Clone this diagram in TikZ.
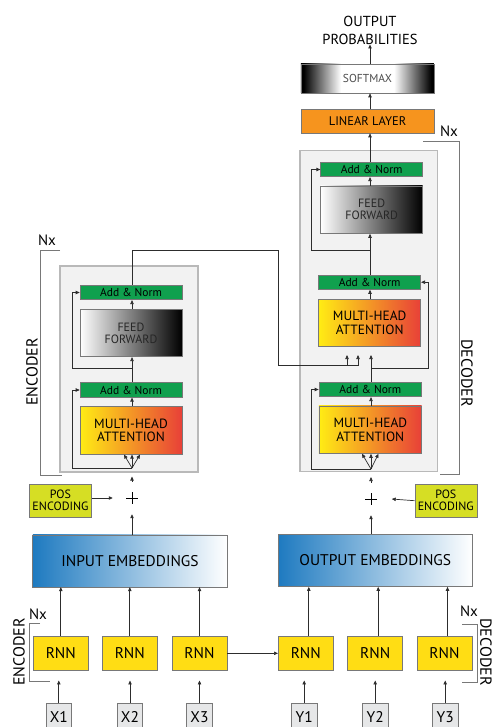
\documentclass[tikz,border=0pt]{standalone}
\usepackage{fontspec}
\setmainfont{PT Sans}
\usetikzlibrary{arrows.meta,calc}

\definecolor{linecol}{RGB}{45,45,45}
\definecolor{bordercol}{RGB}{120,120,120}
\definecolor{blockfill}{RGB}{242,242,242}
\definecolor{blockdraw}{RGB}{185,185,185}
\definecolor{addgreen}{RGB}{16,160,78}
\definecolor{mhyellow}{RGB}{255,236,20}
\definecolor{mhorange}{RGB}{247,168,60}
\definecolor{mhred}{RGB}{232,64,56}
\definecolor{linorange}{RGB}{246,148,30}
\definecolor{posgreen}{RGB}{214,222,36}
\definecolor{rnnyellow}{RGB}{255,221,20}
\definecolor{embblue}{RGB}{30,122,192}
\definecolor{tokfill}{RGB}{230,231,232}

\pgfdeclarehorizontalshading{softmaxshade}{100bp}{%
  color(0bp)=(black); color(26bp)=(black); color(40bp)=(white);
  color(60bp)=(white); color(74bp)=(black); color(100bp)=(black)}

\tikzset{
  fsz/.style={font=\fontsize{#1}{#1}\selectfont},
  box/.style={draw=bordercol, line width=0.6pt, inner sep=0pt, align=center},
  block/.style={draw=blockdraw, fill=blockfill, line width=1.4pt, inner sep=0pt},
  addnorm/.style={box, fill=addgreen, minimum width=102pt, minimum height=14.5pt,
    fsz=11.5, text=black},
  ffbox/.style={box, left color=white, right color=black, minimum width=102pt,
    minimum height=47.5pt, fsz=12, text=black!85},
  mhbox/.style={box, left color=mhyellow, middle color=mhorange, right color=mhred,
    shading angle=90, minimum width=102pt, minimum height=47.5pt, fsz=13.4},
  embbox/.style={box, left color=embblue, right color=white, minimum width=194.5pt,
    minimum height=52pt, fsz=15.5},
  posbox/.style={box, fill=posgreen, minimum width=62pt, minimum height=33.5pt,
    fsz=12},
  rnnbox/.style={box, fill=rnnyellow, minimum width=55pt, minimum height=34.7pt,
    fsz=15.5},
  tokbox/.style={box, fill=tokfill, minimum width=25.5pt, minimum height=28pt,
    fsz=15.5},
  plusspot/.style={inner sep=0pt, minimum width=38pt, minimum height=32pt},
  plusline/.style={draw=black, line width=1pt},
  conn/.style={draw=linecol, line width=0.7pt},
  arr/.style={-{Triangle[length=4pt,width=3.4pt]}},
  bracket/.style={draw=bordercol, line width=0.8pt},
  lbl/.style={inner sep=0pt, fsz=16},
  nxlbl/.style={inner sep=0pt, fsz=15},
}

\begin{document}
\begin{tikzpicture}[x=1pt,y=-1pt]
\useasboundingbox (0,0) rectangle (492,727);
\clip (0,0) rectangle (492,727);

% ---------------- encoder stack ----------------
\node[block, minimum width=138pt, minimum height=206pt] (encblock) at (129,369) {};
\node[addnorm] (encan2) at (131,292.5) {Add \& Norm};
\node[ffbox] (encff) at (131,333) {FEED\\FORWARD};
\node[addnorm] (encan1) at (131,390) {Add \& Norm};
\node[mhbox] (encmha) at (131,430.5) {MULTI-HEAD\\ATTENTION};

\draw[bracket] (60,250) -- (40,250) -- (40,475) -- (62,475);
\node[nxlbl] (encnx) at (47,240) {Nx};
\node[lbl, rotate=90] (enclbl) at (32,372) {ENCODER};

\node[plusspot] (encplus) at (132,498) {};
\draw[plusline] ($(encplus)+(-6,0)$) -- ($(encplus)+(6,0)$)
                ($(encplus)+(0,-6)$) -- ($(encplus)+(0,6)$);
\node[posbox] (encpos) at (60.5,500.7) {POS\\ENCODING};
\node[embbox] (inemb) at (130,560.8) {INPUT EMBEDDINGS};

% ---------------- decoder stack ----------------
\node[block, minimum width=137.7pt, minimum height=321pt] (decblock) at (368.9,311.2) {};
\node[addnorm] (decan3) at (371.7,169.5) {Add \& Norm};
\node[ffbox] (decff) at (371.7,209.7) {FEED\\FORWARD};
\node[addnorm] (decan2) at (369.7,282.2) {Add \& Norm};
\node[mhbox] (decmha2) at (369.7,323) {MULTI-HEAD\\ATTENTION};
\node[addnorm, minimum width=102.7pt] (decan1) at (370.3,389.5) {Add \& Norm};
\node[mhbox, minimum width=102.7pt] (decmha1) at (370.3,429.7) {MULTI-HEAD\\ATTENTION};

\node[box, fill=linorange, minimum width=133pt, minimum height=24pt, fsz=12.5] (linear) at (367.5,121) {LINEAR LAYER};
\node[box, shading=softmaxshade, minimum width=133pt, minimum height=29pt, fsz=11.5, text=black!70] (softmax) at (367.4,78.5) {SOFTMAX};
\node[inner sep=0pt, font=\fontsize{14.5}{18}\selectfont, align=center] (outprob) at (370,30) {OUTPUT\\PROBABILITIES};

\draw[bracket] (423,141) -- (459,141) -- (459,474) -- (440,474);
\node[nxlbl] (decnx) at (449,131) {Nx};
\node[lbl, rotate=-90] (declbl) at (467,373) {DECODER};

\node[plusspot, minimum width=41pt] (decplus) at (371,499) {};
\draw[plusline] ($(decplus)+(-6,0)$) -- ($(decplus)+(6,0)$)
                ($(decplus)+(0,-6)$) -- ($(decplus)+(0,6)$);
\node[posbox] (decpos) at (445.8,500.7) {POS\\ENCODING};
\node[embbox] (outemb) at (375.3,560.5) {OUTPUT EMBEDDINGS};

% ---------------- recurrent front end ----------------
\foreach \nm/\cx in {r1/60.8, r2/129.8, r3/199.5, r4/305.8, r5/375.2, r6/444.5}{
  \node[rnnbox] (\nm) at (\cx,653.3) {RNN};
}
\node[tokbox] (x1) at (58.8,717) {X1};
\node[tokbox] (x2) at (130,717) {X2};
\node[tokbox] (x3) at (199.5,717) {X3};
\node[tokbox] (y1) at (304.2,717) {Y1};
\node[tokbox] (y2) at (375.2,717) {Y2};
\node[tokbox] (y3) at (445.2,717) {Y3};

\draw[bracket] (40,623.3) -- (29.3,623.3) -- (29.3,681.7) -- (50,681.7);
\node[nxlbl] (encnx2) at (38,614) {Nx};
\node[lbl, rotate=90] (enclbl2) at (19,652) {ENCODER};
\draw[bracket] (462,624) -- (477,624) -- (477,682) -- (462,682);
\node[nxlbl] (decnx2) at (469,611) {Nx};
\node[lbl, rotate=-90] (declbl2) at (486,652) {DECODER};

% ---------------- connectors: front end ----------------
\foreach \tk/\nm in {x1/r1, x2/r2, x3/r3, y1/r4, y2/r5, y3/r6}{
  \coordinate (\tk in) at ($(\nm.south)+(0,9.5)$);
  \draw[conn, arr] (\tk.north) -- (\tk.north |- \tk in);
}
\foreach \nm in {r1,r2,r3}{ \draw[conn, arr] (\nm.north) -- (\nm.north |- inemb.south); }
\foreach \nm in {r4,r5,r6}{
  \coordinate (\nm top) at ($(\nm.north)+(3,0)$);
  \draw[conn, arr] (\nm top) -- (\nm top |- outemb.south);
}
\draw[conn, arr] (r3.east) -- (r4.west);

% ---------------- connectors: encoder ----------------
\coordinate (encin) at (132,476.5);
\coordinate (encfan) at (132,468);
\draw[conn, arr] (inemb.north -| encplus) -- (encplus.south);
\draw[conn, arr] (encplus.west -| encpos.east) -- (encplus.west);
\draw[conn, arr] (encplus.north) -- (encin);
\foreach \dx in {-8,0,8}{ \draw[conn, arr] (encfan) -- ($(encmha.south -| encfan)+(\dx,0)$); }
\draw[conn, arr] (encfan) -- (72,468) |- (encan1.west);
\draw[conn, arr] (encmha.north -| encfan) -- (encan1.south -| encfan);
\draw[conn, arr] (encan1.north -| encfan) -- (encff.south -| encfan);
\draw[conn, arr] (132,368) -- (72,368) |- (encan2.west);
\draw[conn, arr] (encff.north -| encfan) -- (encan2.south -| encfan);

% encoder output feeding the decoder cross attention
\coordinate (mem1) at (347,355);
\coordinate (mem2) at (358,355);
\draw[conn] (encan2.north -| encfan) -- (132,250) -- (278,250) -- (278,365.7) -- (358,365.7);
\draw[conn, arr] (mem1 |- 0,365.7) -- (mem1);
\draw[conn, arr] (mem2 |- 0,365.7) -- (mem2);

% ---------------- connectors: decoder ----------------
\coordinate (decin) at (371,477);
\coordinate (decfan) at (371,469);
\coordinate (decq) at (371,355);
\draw[conn, arr] (outemb.north -| decplus) -- (decplus.south);
\draw[conn, arr] (decpos.west) -- (decplus.east);
\draw[conn, arr] (decplus.north) -- (decin);
\foreach \dx in {-9,0,7.5}{ \draw[conn, arr] (decfan) -- ($(decmha1.south -| decfan)+(\dx,0)$); }
\draw[conn, arr] (decfan) -- (311,469) |- (decan1.west);
\draw[conn, arr] (decmha1.north -| decfan) -- (decan1.south -| decfan);
\draw[conn, arr] (decan1.north -| decfan) -- (decq);
\draw[conn, arr] (371,368) -- (428,368) |- (decan2.east);
\draw[conn, arr] (decmha2.north -| 370,0) -- (decan2.south -| 370,0);
\draw[conn, arr] (decan2.north -| 370,0) -- (decff.south -| 370,0);
\draw[conn, arr] (370,250) -- (311,250) |- (decan3.west);
\draw[conn, arr] (decff.north -| 370,0) -- (decan3.south -| 370,0);
\draw[conn, arr] (decan3.north -| 370,0) -- (linear.south -| 370,0);
\draw[conn, arr] (linear.north -| 370,0) -- (softmax.south -| 370,0);
\draw[conn, arr] (softmax.north -| 370,0) -- (outprob.south -| 370,0);
\end{tikzpicture}
\end{document}
